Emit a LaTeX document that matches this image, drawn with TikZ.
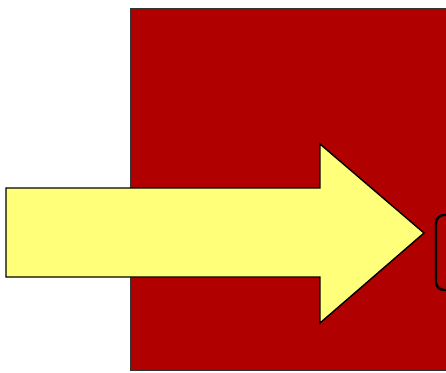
\documentclass[tikz,border=0pt]{standalone}
\begin{document}
\begin{tikzpicture}[x=1pt,y=-1pt,
  redbg/.style={fill={rgb,255:red,176;green,0;blue,0},draw=black!80,line width=1pt},
  arrowshape/.style={fill={rgb,255:red,255;green,255;blue,122},draw=black,line width=1.4pt,line join=miter},
  boxshape/.style={draw=black,line width=2.4pt,rounded corners=8pt}]
\useasboundingbox (0,0) rectangle (446,372);
\path[redbg] (130,8) rectangle (460,370);
\draw[arrowshape] (6,188) -- (320,188) -- (320,144) -- (424,233) -- (320,323) -- (320,277) -- (6,277) -- cycle;
\draw[boxshape] (470,215) -- (436,215) -- (436,290) -- (470,290);
\end{tikzpicture}
\end{document}
